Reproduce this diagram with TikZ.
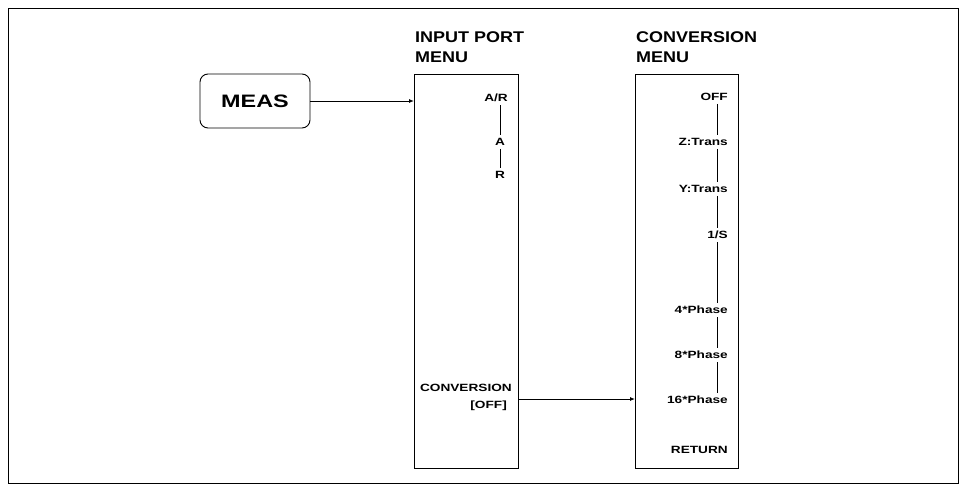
\documentclass[tikz,border=0pt]{standalone}
\usepackage{fontspec}
\setmainfont{Liberation Sans}
\usetikzlibrary{arrows.meta}
\newcommand{\wideitem}[1]{\scalebox{1.3}[1]{#1}}
\newcommand{\widetitle}[1]{\scalebox{1.16}[1]{#1}}
\begin{document}
\begin{tikzpicture}[x=1pt,y=-1pt,
  frame/.style={draw,line width=1.4pt},
  menubox/.style={draw,line width=0.9pt},
  title/.style={anchor=west,font=\fontsize{15.5}{16}\selectfont\bfseries,inner sep=0pt},
  item/.style={font=\fontsize{10.5}{11}\selectfont\bfseries,inner sep=3pt},
  link/.style={line width=0.8pt},
  arr/.style={line width=0.9pt,-{Latex[length=5pt,width=4pt]}}]
\useasboundingbox (0,0) rectangle (963,485);
\node[frame,minimum width=950pt,minimum height=475pt,anchor=north west] (outer) at (8,8) {};
% MEAS key
\node[draw,line width=0.9pt,rounded corners=8pt,minimum width=110pt,minimum height=54pt,
      font=\fontsize{18}{20}\selectfont\bfseries] (meas) at (255,101) {\scalebox{1.3}[1]{MEAS}};
% menu boxes
\node[menubox,anchor=north west,minimum width=104pt,minimum height=394pt] (inbox) at (414,74) {};
\node[menubox,anchor=north west,minimum width=103pt,minimum height=394pt] (cvbox) at (635,74) {};
% titles
\node[title] (t1a) at (415,37) {\widetitle{INPUT PORT}};
\node[title] (t1b) at (415,57) {\widetitle{MENU}};
\node[title] (t2a) at (636,37) {\widetitle{CONVERSION}};
\node[title] (t2b) at (636,57) {\widetitle{MENU}};
% input port items
\node[item,anchor=east] (ar) at (511,98) {\wideitem{A/R}};
\node[item] (ia) at (500,142) {\wideitem{A}};
\node[item] (ir) at (500,175) {\wideitem{R}};
\node[item,anchor=east] (conv) at (515,388) {\wideitem{CONVERSION}};
\node[item,anchor=east] (convoff) at (510,406) {\wideitem{[OFF]}};
\coordinate (lx1) at (500,0);
\draw[link] (ar.south -| lx1) -- (ia.north);
\draw[link] (ia.south) -- (ir.north);
% conversion items
\node[item,anchor=east] (off) at (731,97) {\wideitem{OFF}};
\node[item,anchor=east] (zt) at (731,142) {\wideitem{Z:Trans}};
\node[item,anchor=east] (yt) at (731,189) {\wideitem{Y:Trans}};
\node[item,anchor=east] (inv) at (731,235) {\wideitem{1/S}};
\node[item,anchor=east] (p4) at (731,310) {\wideitem{4*Phase}};
\node[item,anchor=east] (p8) at (731,355) {\wideitem{8*Phase}};
\node[item,anchor=east] (p16) at (731,400) {\wideitem{16*Phase}};
\node[item,anchor=east] (ret) at (731,450) {\wideitem{RETURN}};
\coordinate (lx2) at (717,0);
\draw[link] (off.south -| lx2) -- (zt.north -| lx2);
\draw[link] (zt.south -| lx2) -- (yt.north -| lx2);
\draw[link] (yt.south -| lx2) -- (inv.north -| lx2);
\draw[link] (inv.south -| lx2) -- (p4.north -| lx2);
\draw[link] (p4.south -| lx2) -- (p8.north -| lx2);
\draw[link] (p8.south -| lx2) -- (p16.north -| lx2);
% arrows
\draw[arr] (meas.east) -- (meas.east -| inbox.west);
\coordinate (c1) at (518,399);
\draw[arr] (c1) -- (c1 -| cvbox.west);
\end{tikzpicture}
\end{document}
